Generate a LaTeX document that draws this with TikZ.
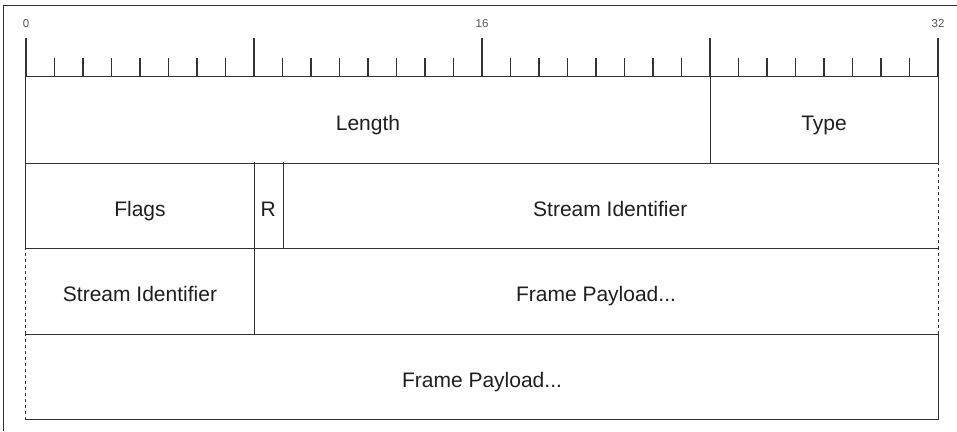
\documentclass[tikz,border=0pt]{standalone}
\usepackage{fontspec}
\setmainfont{Liberation Sans}
\usepackage{xcolor}
\usetikzlibrary{positioning}
\definecolor{linegray}{HTML}{333333}
\definecolor{numgray}{HTML}{555555}

\begin{document}
\begin{tikzpicture}[x=1pt,y=-1pt,line width=1.3pt,draw=linegray,
  field/.style={minimum height=85.5pt,inner sep=0pt,text height=22pt,text depth=0pt,
    font=\fontsize{21}{25}\selectfont,text=black!88},
  bitnum/.style={font=\fontsize{11.5}{13}\selectfont,text=numgray},
  dashline/.style={dash pattern=on 3pt off 3pt}]
\useasboundingbox (0,0) rectangle (957,431);
% outer frame
\draw[line width=1pt] (3,431) -- (3,5) -- (957,5);
% bit ruler
\node[bitnum] (b0) at (26,24) {0};
\node[bitnum] (b16) at (482,24) {16};
\node[bitnum] (b32) at (938,24) {32};
\foreach \i in {1,...,31}
  \draw (26+28.5*\i,58) -- (26+28.5*\i,77);
\foreach \i in {0,8,...,32}
  \draw (26+28.5*\i,38) -- (26+28.5*\i,77);
% fields
\node[field,minimum width=684pt] (len) at (368,119.75) {Length};
\node[field,minimum width=228pt] (type) at (824,119.75) {Type};
\node[field,minimum width=228pt] (flags) at (140,205.25) {Flags};
\node[field,minimum width=28.5pt] (rsv) at (268.25,205.25) {R};
\node[field,minimum width=655.5pt] (sid) at (610.25,205.25) {Stream Identifier};
\node[field,minimum width=228pt] (sid2) at (140,290.75) {Stream Identifier};
\node[field,minimum width=684pt] (pay) at (596,290.75) {Frame Payload...};
\node[field,minimum width=912pt] (pay2) at (482,376.25) {Frame Payload...};
% borders
\draw (len.north west) rectangle (type.south east);
\draw (len.north east) -- (len.south east);
\draw (flags.north west) -- (flags.south west) -- (sid.south east);
\draw[dashline] (sid.north east) -- (sid.south east);
\draw (flags.north east) -- (flags.south east);
\draw (rsv.north east) -- (rsv.south east);
\draw[dashline] (sid2.north west) -- (sid2.south west);
\draw (sid2.south west) -- (pay.south east);
\draw (sid2.north east) -- (sid2.south east);
\draw[dashline] (pay.north east) -- (pay.south east);
\draw[dashline] (pay2.north west) -- (pay2.south west);
\draw (pay2.south west) -- (pay2.south east) -- (pay2.north east);
\end{tikzpicture}
\end{document}
